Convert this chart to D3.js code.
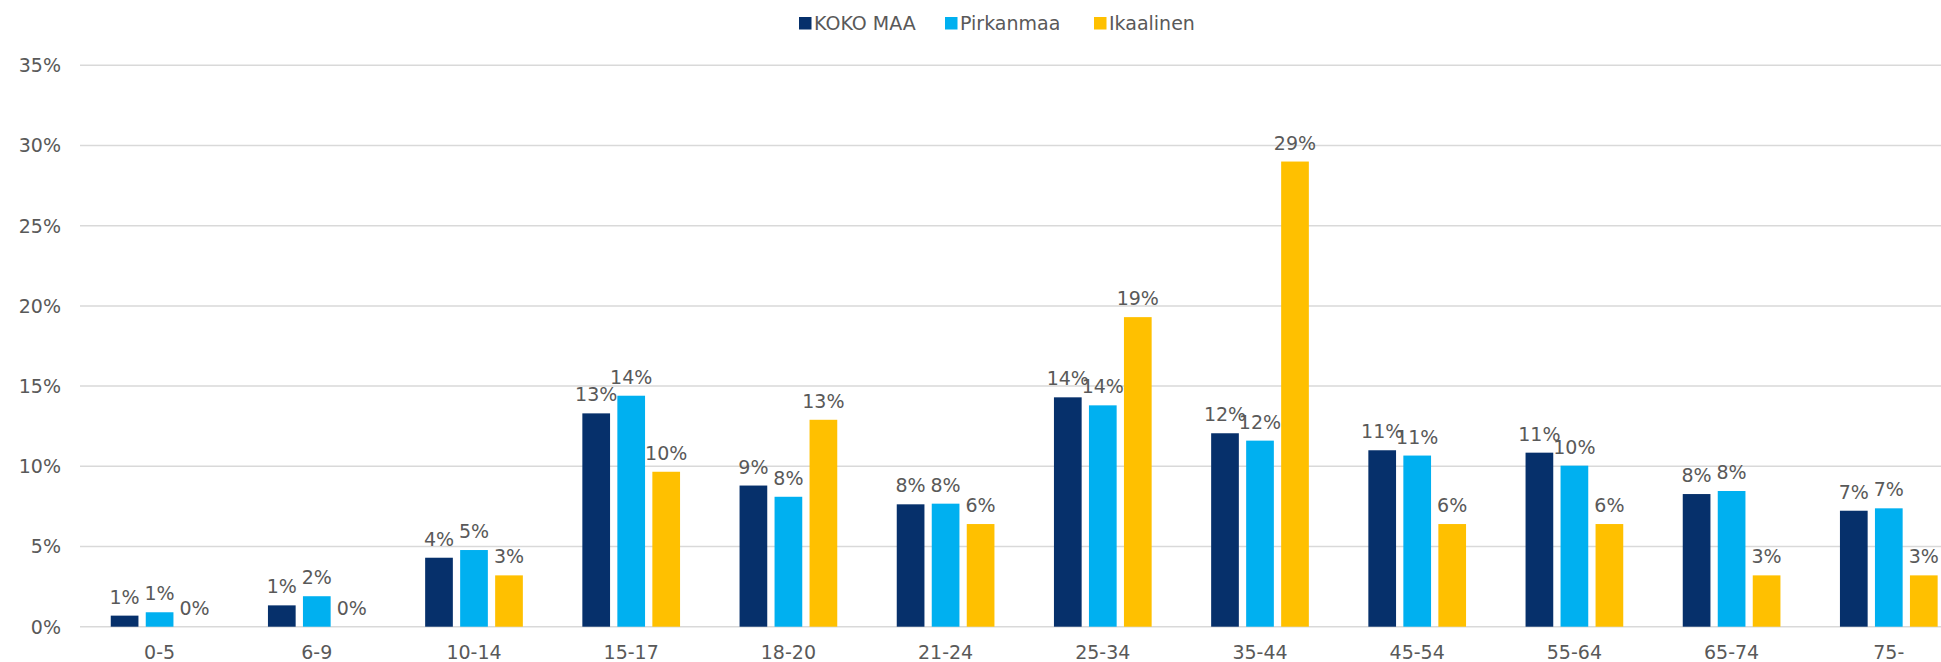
<!DOCTYPE html>
<html lang="fi">
  <head>
    <meta charset="UTF-8" />
    <title>Ikäryhmät</title>
    <script src="https://d3js.org/d3.v7.min.js"></script>
    <style>
      body {
        margin: 0;
        background: #fff;
      }
      svg text {
        font-family: "DejaVu Sans", Verdana, sans-serif;
        fill: #595959;
      }
      .grid line {
        stroke: #d9d9d9;
        stroke-width: 1.5px;
      }
    </style>
  </head>
  <body>
    <svg id="svg" width="1941" height="662"></svg>

    <script>
      // data (shares, 0..1)
      const categories = ["0-5", "6-9", "10-14", "15-17", "18-20", "21-24",
        "25-34", "35-44", "45-54", "55-64", "65-74", "75-"];
      const seriesNames = ["KOKO MAA", "Pirkanmaa", "Ikaalinen"];
      const kokoMaa = [0.0069, 0.0133, 0.043, 0.133, 0.088, 0.0763,
        0.143, 0.1206, 0.110, 0.1085, 0.0827, 0.0723];
      const pirkanmaa = [0.009, 0.019, 0.0478, 0.144, 0.081, 0.0767,
        0.138, 0.116, 0.1067, 0.1004, 0.0846, 0.0738];
      const ikaalinen = [0, 0, 0.032, 0.0966, 0.129, 0.064,
        0.193, 0.290, 0.064, 0.064, 0.032, 0.032];
      const yTicks = [0, 0.05, 0.1, 0.15, 0.2, 0.25, 0.3, 0.35];
      const colors = ["#06306b", "#00b0f0", "#ffc000"];

      const svg = d3.select("#svg");
      const values = [kokoMaa, pirkanmaa, ikaalinen];

      const x0 = d3.scaleBand().domain(categories).range([81, 1967.4]);
      const groupW = 97.7;
      const x1 = d3.scaleBand().domain(seriesNames).range([0, groupW]).paddingInner(0.2086);
      const y = d3.scaleLinear().domain([0, 0.35]).range([626.7, 65.3]);
      const pct = d3.format(".0%");

      // gridlines
      svg.append("g")
        .attr("class", "grid")
        .selectAll("line")
        .data(yTicks)
        .join("line")
        .attr("x1", 80)
        .attr("x2", 1941)
        .attr("y1", (d) => y(d))
        .attr("y2", (d) => y(d));

      // y axis labels
      svg.append("g")
        .selectAll("text")
        .data(yTicks)
        .join("text")
        .attr("x", 61)
        .attr("y", (d) => y(d))
        .attr("dy", "0.36em")
        .attr("text-anchor", "end")
        .style("font-size", "19px")
        .text(pct);

      // x axis labels
      svg.append("g")
        .selectAll("text")
        .data(categories)
        .join("text")
        .attr("x", (d) => x0(d) + x0.bandwidth() / 2)
        .attr("y", 659)
        .attr("text-anchor", "middle")
        .style("font-size", "19px")
        .text((d) => d);

      // bars + labels
      const groups = svg.append("g")
        .selectAll("g")
        .data(categories)
        .join("g")
        .attr("transform", (d) => `translate(${x0(d) + x0.bandwidth() / 2 - groupW / 2},0)`);

      const cells = groups.selectAll("g")
        .data((c, i) => seriesNames.map((s, k) => ({ s: s, v: values[k][i], color: colors[k] })))
        .join("g");

      cells.append("rect")
        .attr("x", (d) => x1(d.s))
        .attr("width", x1.bandwidth())
        .attr("y", (d) => y(d.v))
        .attr("height", (d) => y(0) - y(d.v))
        .attr("fill", (d) => d.color);

      cells.append("text")
        .attr("x", (d) => x1(d.s) + x1.bandwidth() / 2)
        .attr("y", (d) => y(d.v) - 12)
        .attr("text-anchor", "middle")
        .style("font-size", "19px")
        .text((d) => pct(d.v));

      // legend
      const legendX = [799, 945, 1094];
      const legend = svg.append("g")
        .selectAll("g")
        .data(seriesNames)
        .join("g")
        .attr("transform", (d, i) => `translate(${legendX[i]},0)`);

      legend.append("rect")
        .attr("y", 17)
        .attr("width", 12.5)
        .attr("height", 12.5)
        .attr("fill", (d, i) => colors[i]);

      legend.append("text")
        .attr("x", 15)
        .attr("y", 30)
        .style("font-size", "19px")
        .text((d) => d);
    </script>
  </body>
</html>
